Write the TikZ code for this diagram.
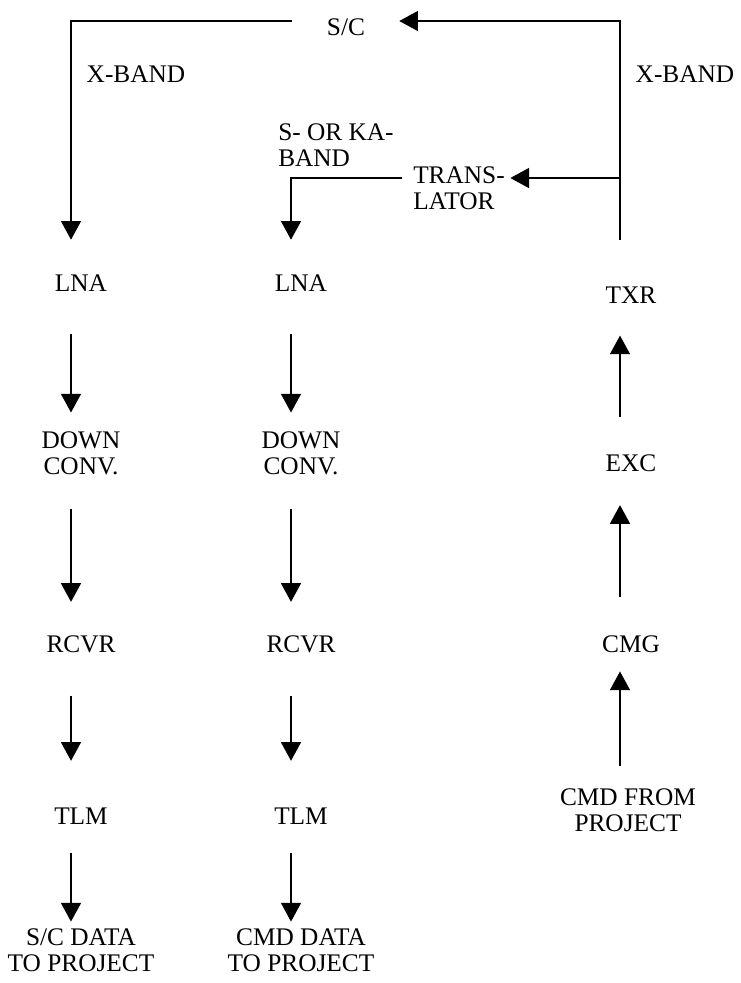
\documentclass[tikz,border=0pt]{standalone}
\usepackage{fontspec}
\setmainfont{Liberation Serif}
\usetikzlibrary{arrows.meta}

\begin{document}
\begin{tikzpicture}[x=0.75pt, y=-0.75pt,
    every node/.style={font=\fontsize{19}{19.5}\selectfont, inner sep=0pt, align=center},
    arr/.style={-{Triangle[length=14pt, width=15pt]}, line width=1pt}]
    \useasboundingbox (0,0) rectangle (740,983);
    \coordinate (colL) at (71,0);
    \coordinate (colM) at (291,0);
    \coordinate (colR) at (620,0);
    \coordinate (top) at (0,21);
    \coordinate (split) at (620,178);
    \node (scT) at (346,27) {S/C};
    \node (xbL) at (136,74) {X-BAND};
    \node (xbR) at (685,74) {X-BAND};
    \node[anchor=west, align=left] (band) at (278,145) {S- OR KA-\\BAND};
    \node[anchor=west, align=left] (trans) at (413,188) {TRANS-\\LATOR};
    \node (lnaL) at (81,283) {LNA};
    \node (downL) at (81,453) {DOWN\\CONV.};
    \node (rcvrL) at (81,644) {RCVR};
    \node (tlmL) at (81,816) {TLM};
    \node (outL) at (81,950) {S/C DATA\\TO PROJECT};
    \node (lnaM) at (301,283) {LNA};
    \node (downM) at (301,453) {DOWN\\CONV.};
    \node (rcvrM) at (301,644) {RCVR};
    \node (tlmM) at (301,816) {TLM};
    \node (outM) at (301,950) {CMD DATA\\TO PROJECT};
    \node (txr) at (631,295) {TXR};
    \node (exc) at (631,463) {EXC};
    \node (cmg) at (631,644) {CMG};
    \node (cmdin) at (628,810) {CMD FROM\\PROJECT};
    \draw[arr, shorten <=26pt, shorten >=26pt] (scT.west |- top) -| (lnaL.north -| colL);
    \draw[arr, shorten <=34.5pt, shorten >=25.5pt] (txr.north -| colR) |- (scT.east |- top);
    \draw[arr, shorten >=4pt] (split) -- (trans.east |- split);
    \draw[arr, shorten <=8pt, shorten >=26pt] (trans.west |- split) -| (lnaM.north -| colM);
    \draw[arr, shorten <=32pt, shorten >=14pt] (lnaL.south -| colL) -- (downL.north -| colL);
    \draw[arr, shorten <=25.5pt, shorten >=25pt] (downL.south -| colL) -- (rcvrL.north -| colL);
    \draw[arr, shorten <=32pt, shorten >=35pt] (rcvrL.south -| colL) -- (tlmL.north -| colL);
    \draw[arr, shorten <=21pt, shorten >=5pt] (tlmL.south -| colL) -- (outL.north -| colL);
    \draw[arr, shorten <=32pt, shorten >=14pt] (lnaM.south -| colM) -- (downM.north -| colM);
    \draw[arr, shorten <=25.5pt, shorten >=25pt] (downM.south -| colM) -- (rcvrM.north -| colM);
    \draw[arr, shorten <=32pt, shorten >=35pt] (rcvrM.south -| colM) -- (tlmM.north -| colM);
    \draw[arr, shorten <=21pt, shorten >=5pt] (tlmM.south -| colM) -- (outM.north -| colM);
    \draw[arr, shorten <=28pt, shorten >=24pt] (exc.north -| colR) -- (txr.south -| colR);
    \draw[arr, shorten <=28.5pt, shorten >=25pt] (cmg.north -| colR) -- (exc.south -| colR);
    \draw[arr, shorten <=16.5pt, shorten >=14pt] (cmdin.north -| colR) -- (cmg.south -| colR);
  \end{tikzpicture}
\end{document}
